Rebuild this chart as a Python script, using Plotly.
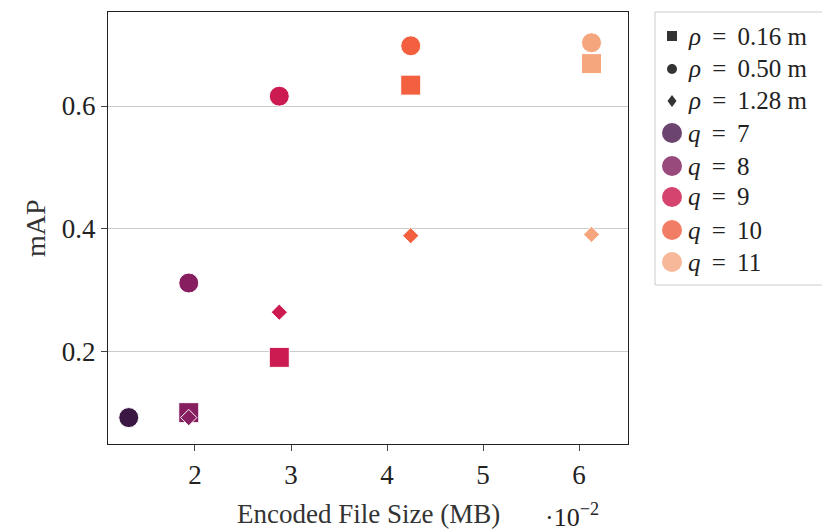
import plotly.graph_objects as go

# Quality levels and encoded file sizes (MB, x 10^-2)
q_values = [7, 8, 9, 10, 11]
file_size = [1.31, 1.935, 2.878, 4.247, 6.13]

# mAP per radius rho (None where no point is shown)
map_rho_016 = [None, 0.101, 0.191, 0.634, 0.669]
map_rho_050 = [0.093, 0.312, 0.616, 0.698, 0.703]
map_rho_128 = [None, 0.093, 0.2645, 0.389, 0.391]

rho_labels = ["0.16", "0.50", "1.28"]
q_colors = ["#3b1743", "#861e5f", "#cb1b50", "#f2603f", "#f6a67c"]
q_legend_colors = ["#6b4470", "#984a7d", "#d5446f", "#f27d66", "#f6b898"]

FONT = "Liberation Serif"
W, H = 822, 531
ML, MR, MT, MB = 108, 194, 12, 87
PW, PH = W - ML - MR, H - MT - MB


def px(xp):
    """Pixel x -> paper x."""
    return (xp - ML) / PW


def py(yp):
    """Pixel y (from top) -> paper y."""
    return (H - MB - yp) / PH


fig = go.Figure()

series = [
    (map_rho_016, "square", 20),
    (map_rho_128, "diamond", 12.5),
    (map_rho_050, "circle", 20),
]
for values, symbol, size in series:
    xs, ys, cs = [], [], []
    for xv, yv, c in zip(file_size, values, q_colors):
        if yv is None:
            continue
        xs.append(xv)
        ys.append(yv)
        cs.append(c)
    fig.add_trace(go.Scatter(
        x=xs, y=ys, mode="markers", showlegend=False, hoverinfo="skip",
        marker=dict(symbol=symbol, size=size, color=cs,
                    line=dict(color="white", width=1)),
    ))

axis_common = dict(
    showline=True, linecolor="#222222", linewidth=1.2, mirror=True,
    ticks="outside", ticklen=6, tickcolor="#444444",
    tickfont=dict(family=FONT, size=27, color="#222222"),
    zeroline=False,
)

fig.update_xaxes(range=[1.094, 6.51], tickvals=[2, 3, 4, 5, 6],
                 showgrid=False, **axis_common)
fig.update_yaxes(range=[0.050, 0.753], tickvals=[0.2, 0.4, 0.6],
                 ticktext=["0.2", "0.4", "0.6"],
                 showgrid=True, gridcolor="#cccccc", gridwidth=1, **axis_common)

shapes = []
annotations = []

# Axis titles and the x scale factor
annotations.append(dict(
    xref="paper", yref="paper", x=px(368), y=py(514), xanchor="center", yanchor="middle",
    text="Encoded File Size (MB)", showarrow=False,
    font=dict(family=FONT, size=27, color="#333333"),
))
annotations.append(dict(
    xref="paper", yref="paper", x=px(35), y=py(228), xanchor="center", yanchor="middle",
    text="mAP", textangle=-90, showarrow=False,
    font=dict(family=FONT, size=28, color="#333333"),
))
annotations.append(dict(
    xref="paper", yref="paper", x=px(543), y=py(515), xanchor="left", yanchor="middle",
    text="·10<sup>−2</sup>", showarrow=False,
    font=dict(family=FONT, size=26, color="#222222"),
))

# Legend box
shapes.append(dict(type="rect", xref="paper", yref="paper",
                   x0=px(655), x1=px(840), y0=py(285), y1=py(12),
                   line=dict(color="#cccccc", width=1), fillcolor="white", layer="below"))

sym_x = 672
text_x = 686
rho_rows = [36, 69, 101]
q_rows = [133, 166, 197, 230, 262]
dark = "#333333"

for lab, yrow, sym in zip(rho_labels, rho_rows, ["square", "circle", "diamond"]):
    if sym == "square":
        shapes.append(dict(type="rect", xref="paper", yref="paper",
                           x0=px(sym_x - 5), x1=px(sym_x + 5),
                           y0=py(yrow + 5), y1=py(yrow - 5),
                           fillcolor=dark, line=dict(width=0)))
    elif sym == "circle":
        shapes.append(dict(type="circle", xref="paper", yref="paper",
                           x0=px(sym_x - 5), x1=px(sym_x + 5),
                           y0=py(yrow + 5), y1=py(yrow - 5),
                           fillcolor=dark, line=dict(width=0)))
    else:
        path = (f"M {px(sym_x)} {py(yrow - 6)} L {px(sym_x + 4.5)} {py(yrow)} "
                f"L {px(sym_x)} {py(yrow + 6)} L {px(sym_x - 4.5)} {py(yrow)} Z")
        shapes.append(dict(type="path", xref="paper", yref="paper", path=path,
                           fillcolor=dark, line=dict(width=0)))
    annotations.append(dict(
        xref="paper", yref="paper", x=px(text_x), y=py(yrow), xanchor="left", yanchor="middle",
        text=f"<i>ρ</i>\u2009 = \u2009{lab} m", showarrow=False,
        font=dict(family=FONT, size=25, color="#222222"),
    ))

for q, c, yrow in zip(q_values, q_legend_colors, q_rows):
    shapes.append(dict(type="circle", xref="paper", yref="paper",
                       x0=px(sym_x - 10), x1=px(sym_x + 10),
                       y0=py(yrow + 10), y1=py(yrow - 10),
                       fillcolor=c, line=dict(width=0)))
    annotations.append(dict(
        xref="paper", yref="paper", x=px(text_x), y=py(yrow), xanchor="left", yanchor="middle",
        text=f"<i>q</i>\u2009 = \u2009{q}", showarrow=False,
        font=dict(family=FONT, size=25, color="#222222"),
    ))

fig.update_layout(
    width=W, height=H,
    margin=dict(l=ML, r=MR, t=MT, b=MB),
    plot_bgcolor="white", paper_bgcolor="white",
    font=dict(family=FONT, color="#222222"),
    showlegend=False,
    shapes=shapes,
    annotations=annotations,
)

fig.write_html("out.html")
